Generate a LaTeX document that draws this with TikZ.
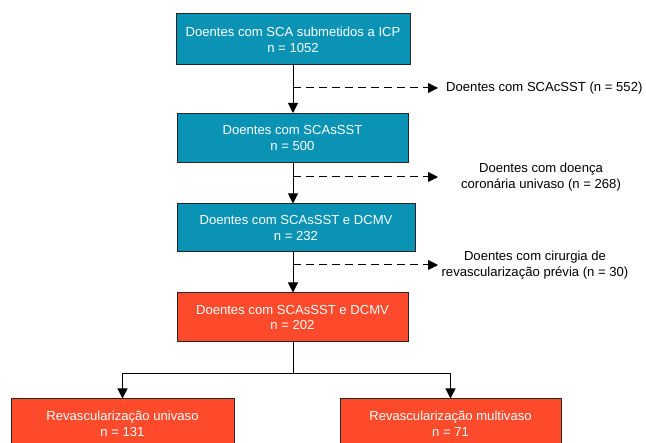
\documentclass[tikz,border=0pt]{standalone}
\usepackage{fontspec}
\setmainfont{Liberation Sans}
\usetikzlibrary{arrows.meta}

\definecolor{tealbox}{RGB}{10,147,181}
\definecolor{redbox}{RGB}{255,74,43}

\tikzset{
  box/.style={draw=black!85, line width=1pt, text=white, align=center,
    minimum height=49pt, inner sep=0pt, font=\fontsize{13.1}{15.8}\selectfont},
  bluebox/.style={box, fill=tealbox},
  redbx/.style={box, fill=redbox},
  exclusion/.style={align=center, font=\fontsize{13.1}{15.8}\selectfont},
  arr/.style={-{Triangle[width=10pt,length=10pt]}, line width=1pt},
  dasharr/.style={arr, dash pattern=on 8pt off 5pt}
}

\begin{document}
\begin{tikzpicture}[x=1pt, y=-1pt]
    \useasboundingbox (0, 0) rectangle (646, 443);
    \fill [white] (0, 0) rectangle (646, 443);

    \node [bluebox, minimum width=234pt, minimum height=51pt] (sca) at (293, 39.5)
      {Doentes com SCA submetidos a ICP\\n = 1052};
    \node [bluebox, minimum width=231pt] (sst) at (292.5, 138)
      {Doentes com SCAsSST\\n = 500};
    \node [bluebox, minimum width=238pt, minimum height=48pt] (dcmv) at (296, 228)
      {Doentes com SCAsSST e DCMV\\n = 232};
    \node [redbx, minimum width=231pt] (final) at (292.5, 317.5)
      {Doentes com SCAsSST e DCMV\\n = 202};
    \node [redbx, minimum width=223pt, minimum height=50pt] (uni) at (122.5, 424)
      {Revascularização univaso\\n = 131};
    \node [redbx, minimum width=221pt, minimum height=50pt] (multi) at (450.5, 424)
      {Revascularização multivaso\\n = 71};

    % excluded patients
    \node [exclusion, anchor=west, inner sep=0pt] (excl1) at (446, 88)
      {Doentes com SCAcSST (n = 552)};
    \node [exclusion, inner sep=0pt] (excl2) at (541, 177)
      {Doentes com doença\\coronária univaso (n = 268)};
    \node [exclusion, inner sep=0pt] (excl3) at (535, 265.5)
      {Doentes com cirurgia de\\revascularização prévia (n = 30)};

    \coordinate (s1) at (293, 88);
    \coordinate (e1) at (438, 88);
    \coordinate (s2) at (293, 177);
    \coordinate (e2) at (438, 177);
    \coordinate (s3) at (293, 265);
    \coordinate (e3) at (438, 265);
    \coordinate (split) at (293, 374);

    \draw [arr] (sca.south -| s1) -- (sst.north -| s1);
    \draw [arr] (sst.south -| s1) -- (dcmv.north -| s1);
    \draw [arr] (dcmv.south -| s1) -- (final.north -| s1);

    \draw [dasharr] (s1) -- (e1);
    \draw [dasharr] (s2) -- (e2);
    \draw [dasharr] (s3) -- (e3);

    \draw [line width=1pt] (final.south -| split) -- (split);
    \draw [arr] (split) -| (uni.north);
    \draw [arr] (split) -| (multi.north);
  \end{tikzpicture}
\end{document}
